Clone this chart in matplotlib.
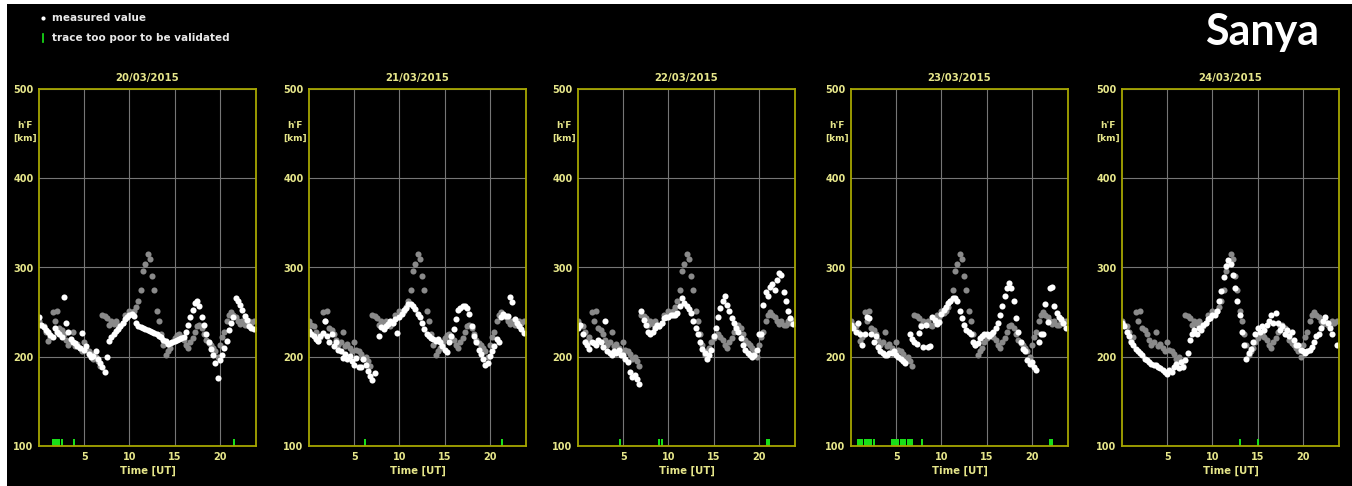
import numpy as np
import matplotlib
matplotlib.use("Agg")
import matplotlib.pyplot as plt
from matplotlib.lines import Line2D
from matplotlib.patches import Rectangle

# sounding times, one every 15 minutes
hours = np.arange(0, 24, 0.25)
dates = ['20/03/2015', '21/03/2015', '22/03/2015', '23/03/2015', '24/03/2015']
station = 'Sanya'
y_ticks = [100, 200, 300, 400, 500]
x_ticks = [5, 10, 15, 20]

# reference h'F curve (grey), the same for every day
grey_ref = [240, 236, 234, 228, 218, 222, 250, 240,
            251, 232, 230, 225, 219, 213, 217, 228,
            212, 214, 210, 206, 217, 208, 206, 203,
            198, 200, 195, 190, 247, 246, 243, 236,
            240, 237, 240, 236, 234, 238, 247, 245,
            251, 249, 251, 256, 262, 275, 296, 304,
            315, 310, 290, 275, 251, 240, 226, 213,
            202, 206, 210, 217, 221, 224, 225, 222,
            219, 213, 210, 217, 221, 228, 234, 236,
            232, 225, 219, 215, 213, 210, 206, 200,
            213, 222, 228, 240, 247, 250, 247, 244,
            240, 237, 240, 236, 236, 240, 238, 240]

# measured h'F [km] for each day
hf_0320 = [245, 236, 233, 230, 228, 224, 222, 232,
           228, 226, 222, 267, 238, 228, 220, 217,
           215, 212, 210, 227, 208, 212, 203, 200,
           201, 206, 197, 193, 188, 183, 200, 218,
           222, 226, 229, 231, 235, 238, 242, 245,
           247, 248, 246, 238, 235, 233, 232, 231,
           230, 229, 228, 227, 225, 223, 222, 219,
           218, 214, 215, 216, 218, 219, 220, 221,
           222, 228, 236, 244, 252, 260, 263, 257,
           245, 236, 226, 216, 209, 202, 193, 176,
           196, 202, 210, 218, 230, 238, 245, 266,
           262, 258, 252, 246, 241, 235, 232, 231]

hf_0321 = [229, 225, 223, 220, 218, 223, 227, 240,
           223, 216, 225, 212, 216, 208, 206, 199,
           203, 197, 201, 195, 191, 199, 189, 188,
           197, 191, 184, 178, 174, 182, np.nan, 223,
           233, 231, 235, 237, 240, 238, 242, 227,
           244, 248, 252, 255, 259, 259, 257, 254,
           248, 244, 238, 231, 225, 223, 221, 220,
           218, 220, 216, 212, 208, 205, 216, 223,
           231, 242, 252, 255, 257, 257, 255, 248,
           235, 223, 216, 208, 203, 197, 191, 193,
           201, 206, 212, 220, 216, 244, 248, 246,
           246, 267, 261, 242, 238, 235, 231, 227]

hf_0322 = [232, 236, 225, 217, 213, 209, 217, 215,
           213, 219, 217, 211, 240, 206, 204, 202,
           206, 204, 208, 202, 202, 198, 194, 183,
           177, 179, 175, 170, 251, 241, 236, 228,
           226, 228, 232, 236, 234, 238, 243, 245,
           245, 247, 247, 247, 249, 257, 266, 260,
           257, 253, 249, 240, 232, 225, 217, 209,
           204, 198, 202, 208, 223, 232, 245, 255,
           262, 268, 258, 251, 243, 238, 232, 228,
           221, 213, 208, 204, 202, 200, 202, 208,
           225, 226, 258, 272, 268, 278, 281, 275,
           286, 294, 292, 272, 262, 251, 243, 237]

hf_0323 = [236, 232, 228, 238, 225, 213, 226, 244,
           243, 225, 217, 223, 211, 206, 204, 202,
           202, 204, 204, 206, 202, 200, 198, 195,
           193, np.nan, 225, 220, 216, 214, 227, 234,
           211, 236, 211, 212, 245, 241, 237, 239,
           248, 252, 256, 260, 263, 266, 266, 262,
           251, 243, 236, 230, 228, 225, 217, 213,
           215, 221, 223, 225, 225, 223, 226, 228,
           232, 238, 247, 257, 268, 277, 283, 277,
           262, 243, 228, 217, 209, 206, 196, 192,
           194, 189, 185, 217, 225, 225, 259, 239,
           277, 278, 257, 249, 245, 242, 238, 232]

hf_0324 = [238, 234, 228, 223, 217, 213, 209, 206,
           204, 202, 198, 196, 194, 192, 191, 191,
           189, 187, 185, 183, 181, 185, 183, 189,
           192, 187, 194, 189, 196, 204, 219, 225,
           230, 226, 232, 230, 236, 238, 242, 243,
           247, 247, 251, 262, 274, 289, 302, 308,
           304, 292, 277, 262, 247, 228, 213, 198,
           204, 209, 217, 225, 232, 228, 234, 230,
           236, 240, 247, 238, 249, 238, 230, 234,
           226, 230, 223, 228, 219, 213, 213, 208,
           206, 204, 206, 208, 211, 217, 223, 226,
           232, 240, 245, 238, 232, 226, np.nan, 213]

# times [UT] of traces too poor to be validated
poor_0320 = [1.5, 1.75, 2.0, 2.25, 2.5, 3.9, 21.6]
poor_0321 = [6.15, 21.4]
poor_0322 = [4.65, 9.0, 9.25, 20.9, 21.15]
poor_0323 = [0.75, 1.0, 1.25, 1.5, 1.75, 2.0, 2.25, 2.5,
             4.5, 4.75, 5.0, 5.25, 5.5, 5.75, 6.0, 6.25, 6.5, 6.75,
             7.8, 22.0, 22.25]
poor_0324 = [13.1, 15.0]

measured = [hf_0320, hf_0321, hf_0322, hf_0323, hf_0324]
poor = [poor_0320, poor_0321, poor_0322, poor_0323, poor_0324]

W, H = 1352, 486
yellow = '#e6e68a'
frame = '#a6a600'
green = '#19e619'

fig = plt.figure(figsize=(W / 100, H / 100), dpi=100, facecolor='white')
fig.add_artist(Rectangle((7 / W, 0), 1, (H - 4) / H, transform=fig.transFigure,
                         facecolor='black', edgecolor='none', zorder=-10))

panel_left = [39, 309, 578, 851, 1122]
for i, left in enumerate(panel_left):
    ax = fig.add_axes([left / W, 1 - 446 / H, 217 / W, 357 / H])
    ax.set_facecolor('black')
    ax.set_xlim(0, 24)
    ax.set_ylim(100, 500)
    ax.set_xticks(x_ticks)
    ax.set_yticks(y_ticks)
    ax.grid(color='#767676', linewidth=0.8)
    ax.set_axisbelow(True)
    for s in ax.spines.values():
        s.set_color(frame)
        s.set_linewidth(1.3)
    ax.tick_params(length=0, labelcolor=yellow, labelsize=7, pad=4)
    for lbl in ax.get_xticklabels() + ax.get_yticklabels():
        lbl.set_fontweight('bold')

    ax.plot(hours, grey_ref, 'o', color='#8a8a8a', markersize=4.4,
            markeredgewidth=0, linestyle='none')
    ax.plot(hours, measured[i], 'o', color='white', markersize=4.4,
            markeredgewidth=0, linestyle='none')
    ax.vlines(poor[i], 100, 108, color=green, linewidth=1.4)

    ax.set_title(dates[i], color=yellow, fontsize=7.3, fontweight='bold', pad=6)
    ax.set_xlabel('Time [UT]', color=yellow, fontsize=7.3, fontweight='bold', labelpad=3)
    fig.text((left - 14) / W, 1 - 132 / H, "h'F\n[km]", color=yellow, fontsize=6.5,
             fontweight='bold', ha='center', va='center', linespacing=1.5)

# legend
fig.add_artist(Line2D([43 / W], [1 - 18 / H], marker='o', color='white',
                      markersize=3, markeredgewidth=0, transform=fig.transFigure))
fig.text(52 / W, 1 - 18 / H, 'measured value', color='#e8e8e8', fontsize=7.5,
         fontweight='bold', va='center')
fig.add_artist(Line2D([43 / W, 43 / W], [1 - 34 / H, 1 - 42 / H], color=green,
                      linewidth=1.2, transform=fig.transFigure))
fig.text(52 / W, 1 - 38 / H, 'trace too poor to be validated', color='#e8e8e8',
         fontsize=7.5, fontweight='bold', va='center')

fig.text(1262 / W, 1 - 32 / H, station, color='white', fontsize=31,
         fontweight='bold', family='Lato', ha='center', va='center')

fig.savefig('out.png', dpi=100, facecolor=fig.get_facecolor())
